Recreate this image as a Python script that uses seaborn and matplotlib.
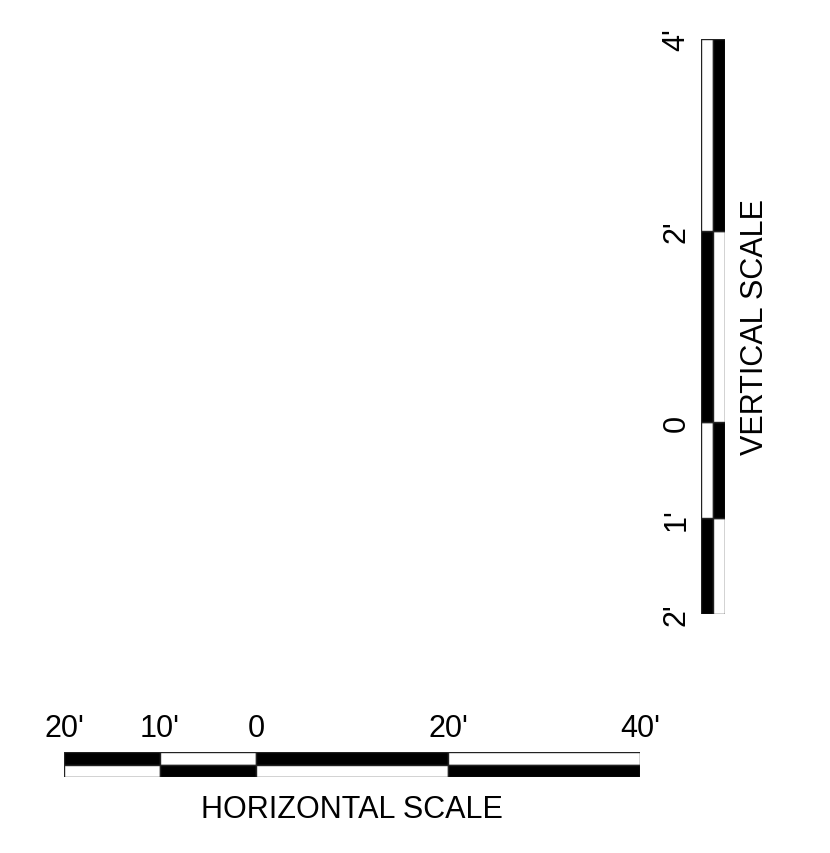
"""
Horizontal and vertical scale bars (drawing scale key).
"""
import numpy as np
import seaborn as sns
import matplotlib
matplotlib.use('Agg')
import matplotlib.pyplot as plt

sns.set_theme(style='white')
plt.rcParams['font.family'] = ['Liberation Sans', 'DejaVu Sans']
plt.rcParams['text.color'] = 'black'
plt.rcParams['xtick.color'] = 'black'
plt.rcParams['ytick.color'] = 'black'
plt.rcParams['axes.labelcolor'] = 'black'

# horizontal scale, feet
h_edges = [-20, -10, 0, 20, 40]
h_labels = ["20'", "10'", "0", "20'", "40'"]
h_top = ['black', 'white', 'black', 'white']
h_bottom = ['white', 'black', 'white', 'black']

# vertical scale, feet (bottom to top)
v_edges = [-2, -1, 0, 2, 4]
v_labels = ["2'", "1'", "0", "2'", "4'"]
v_left = ['black', 'white', 'black', 'white']
v_right = ['white', 'black', 'white', 'black']

W, H = 830, 854
fig = plt.figure(figsize=(W / 100, H / 100), dpi=100)

def px_axes(x0, y0, x1, y1):
    # pixel box (from top-left) -> figure axes
    return fig.add_axes([x0 / W, 1 - y1 / H, (x1 - x0) / W, (y1 - y0) / H])

fs = 22
edge_kw = dict(edgecolor='#222222', linewidth=1.0)

# ---- horizontal scale
axh = px_axes(64, 753, 640, 778)
left = np.array(h_edges[:-1])
width = np.diff(h_edges)
axh.barh([1.5] * len(left), width, left=left, height=1, color=h_top, **edge_kw)
axh.barh([0.5] * len(left), width, left=left, height=1, color=h_bottom, **edge_kw)
axh.set_xlim(h_edges[0], h_edges[-1])
axh.set_ylim(0, 2)
axh.set_yticks([])
axh.xaxis.tick_top()
axh.set_xticks(h_edges)
axh.set_xticklabels(h_labels, fontsize=fs)
axh.tick_params(axis='x', length=0, pad=6.5)
axh.set_xlabel('HORIZONTAL SCALE', fontsize=fs, labelpad=12)
for s in axh.spines.values():
    s.set_visible(False)

# ---- vertical scale
axv = px_axes(701, 40, 725, 615)
bottom = np.array(v_edges[:-1])
height = np.diff(v_edges)
axv.bar([0.5] * len(bottom), height, bottom=bottom, width=1, color=v_left, **edge_kw)
axv.bar([1.5] * len(bottom), height, bottom=bottom, width=1, color=v_right, **edge_kw)
axv.set_xlim(0, 2)
axv.set_ylim(v_edges[0], v_edges[-1])
axv.set_xticks([])
axv.set_yticks(v_edges)
axv.set_yticklabels(v_labels, fontsize=fs, rotation=90, va='center')
axv.tick_params(axis='y', length=0, pad=7)
axv.yaxis.set_label_position('right')
axv.set_ylabel('VERTICAL SCALE', fontsize=fs, labelpad=11)
for s in axv.spines.values():
    s.set_visible(False)

fig.savefig('out.png', dpi=100)
